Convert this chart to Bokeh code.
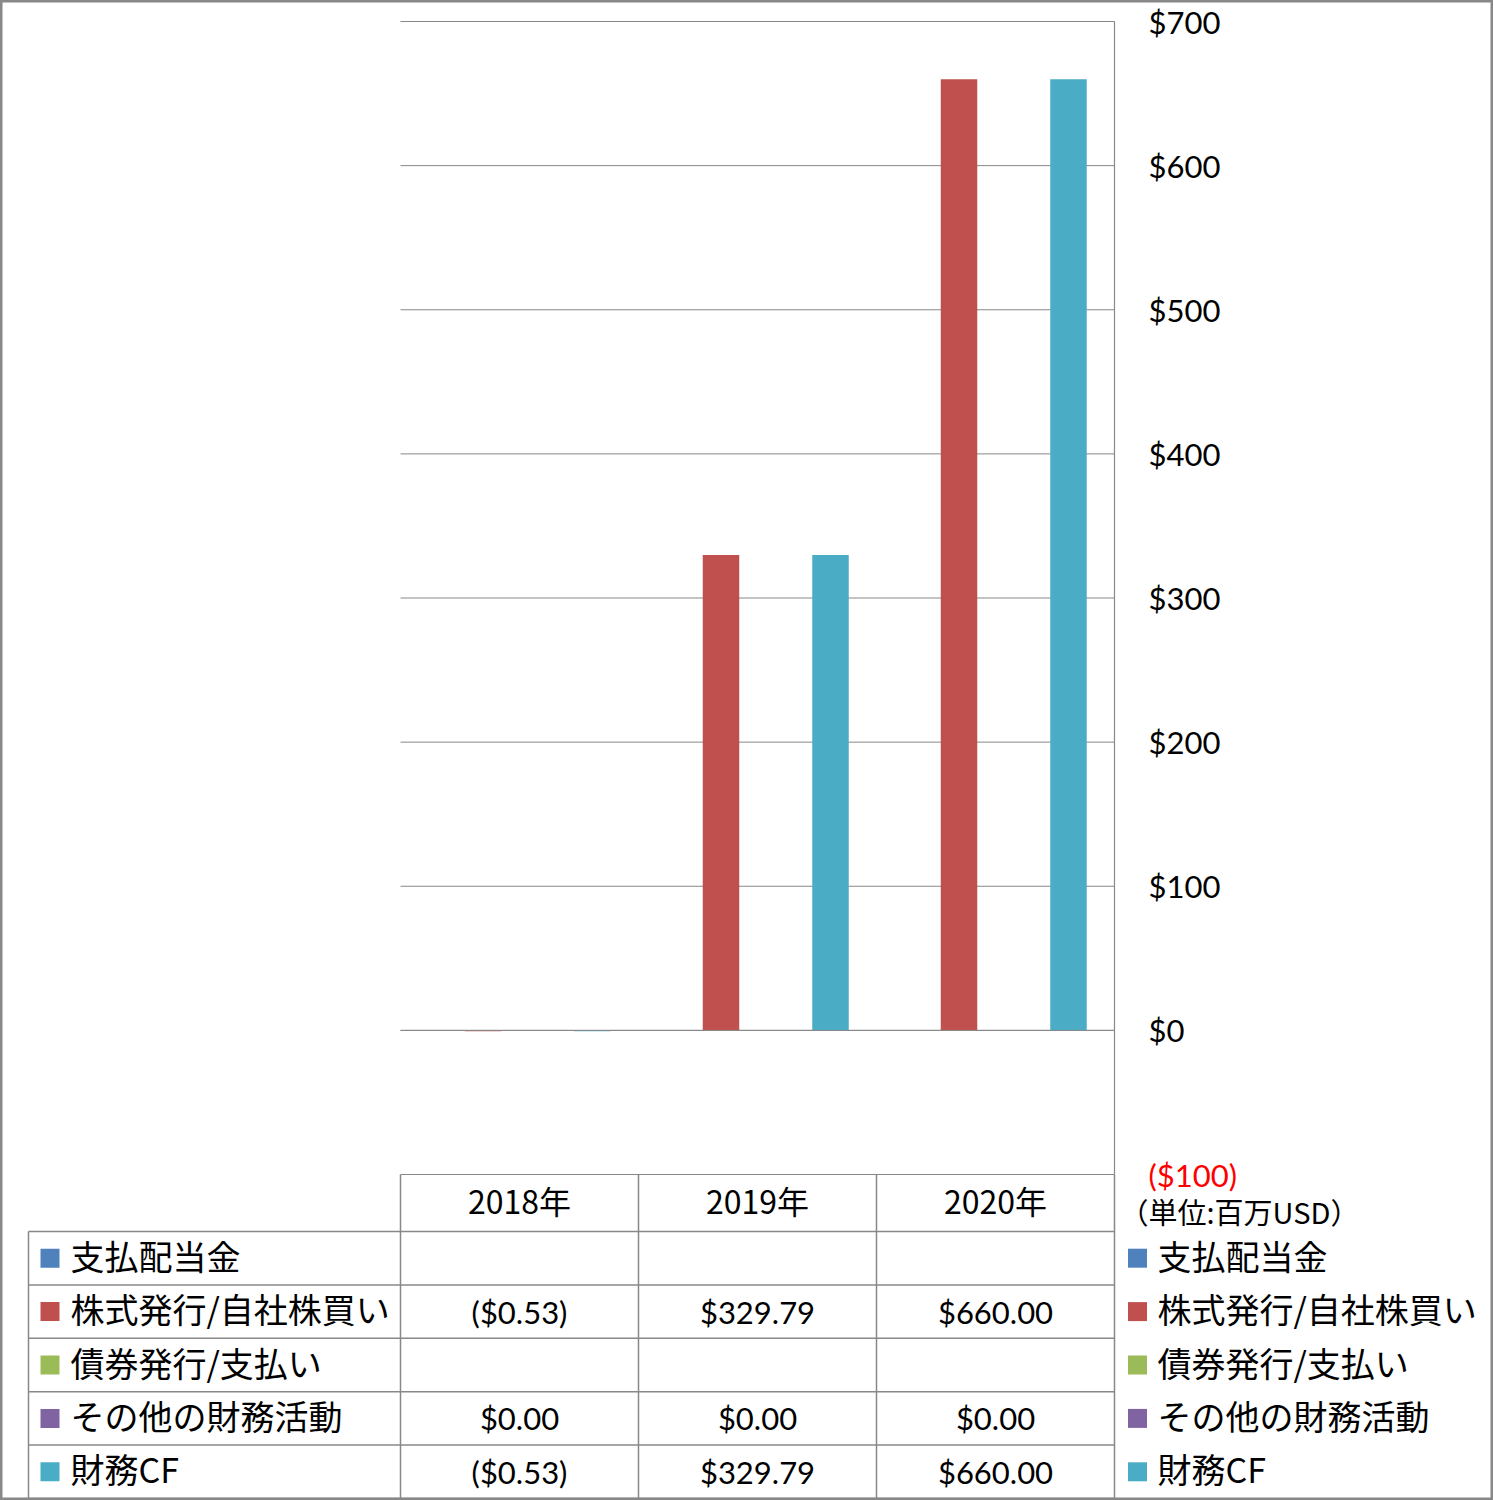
from bokeh.plotting import figure
from bokeh.models import Range1d, ColumnDataSource
from bokeh.embed import file_html
from bokeh.resources import INLINE
from bokeh.core.properties import value

# ---------------- data ----------------
years = ["2018年", "2019年", "2020年"]
series_names = ["支払配当金", "株式発行/自社株買い", "債券発行/支払い", "その他の財務活動", "財務CF"]
series_colors = ["#4F81BD", "#C0504D", "#9BBB59", "#8064A2", "#4BACC6"]
dividends_paid = [None, None, None]
stock_issuance = [-0.53, 329.79, 660.00]
debt_issuance = [None, None, None]
other_financing = [0.00, 0.00, 0.00]
financing_cf = [-0.53, 329.79, 660.00]
series_values = [dividends_paid, stock_issuance, debt_issuance, other_financing, financing_cf]
y_tick_values = [0, 100, 200, 300, 400, 500, 600, 700]
y_min, y_max = -100, 700
y_tick_labels = ["$0", "$100", "$200", "$300", "$400", "$500", "$600", "$700"]
y_min_label = "($100)"
unit_label = "（単位:百万USD）"

# ---------------- style / layout ----------------
FONT = "Noto Sans CJK JP"
NUM_FONT = "Lato"
GRAY = "#888888"
W, H = 1493, 1500
PLOT_LEFT, PLOT_TOP, PLOT_BOTTOM = 400, 21, 1174
TABLE_TOP = 1231
COL = 238.0                 # px per category column
ROW = 53.4                  # px per table row
PPV = (PLOT_BOTTOM - PLOT_TOP) / (y_max - y_min)   # px per value unit
BAR_W = 36.5 / COL
TXT_DY = -3                 # optical vertical correction for CJK text (screen px)
n_cat = len(years)
n_rows = len(series_names)


def fmt(v):
    if v is None:
        return ""
    if v < 0:
        return "(${:,.2f})".format(-v)
    return "${:,.2f}".format(v)


p = figure(width=W, height=H, output_backend="svg", toolbar_location=None,
           x_range=Range1d(-PLOT_LEFT / COL, (W - PLOT_LEFT) / COL),
           y_range=Range1d(y_min - (H - PLOT_BOTTOM) / PPV, y_max + PLOT_TOP / PPV),
           x_axis_type=None, y_axis_type=None,
           min_border_left=0, min_border_right=0, min_border_top=0, min_border_bottom=0)
p.extra_y_ranges = {"rows": Range1d(start=(H - TABLE_TOP) / ROW, end=-TABLE_TOP / ROW)}
p.outline_line_color = GRAY
p.outline_line_width = 4
p.background_fill_color = "white"
p.border_fill_color = "white"
p.xgrid.visible = False
p.ygrid.visible = False

# ---- gridlines & value axis line ----
grid_y = [y_min] + y_tick_values
p.segment(x0=[0] * len(grid_y), x1=[n_cat] * len(grid_y), y0=grid_y, y1=grid_y,
          line_color=GRAY, line_width=1)
p.segment(x0=[n_cat], x1=[n_cat], y0=[y_min], y1=[y_max], line_color=GRAY, line_width=1.2)

# ---- bars ----
for k, (vals, color) in enumerate(zip(series_values, series_colors)):
    xs, tops = [], []
    for i, v in enumerate(vals):
        if v is None:
            continue
        xs.append(i + 0.5 + (k - 2) * BAR_W)
        tops.append(v)
    if xs:
        src = ColumnDataSource(dict(x=xs, top=tops))
        p.vbar(x="x", top="top", bottom=0, width=BAR_W, source=src,
               fill_color=color, line_color=None)

# zero line drawn on top
p.segment(x0=[0], x1=[n_cat], y0=[0], y1=[0], line_color=GRAY, line_width=1)

# ---- value tick labels ----
lab_x = n_cat + 34 / COL
p.text(x=[lab_x] * len(y_tick_values), y=y_tick_values, text=y_tick_labels,
       text_font=value(NUM_FONT), text_font_size="31px", text_color="black",
       text_align="left", text_baseline="middle")
p.text(x=[lab_x], y=[y_min], text=[y_min_label],
       text_font=value(NUM_FONT), text_font_size="31px", text_color="#FF0000",
       text_align="left", text_baseline="middle")

# ---- data table ----
XL = -(PLOT_LEFT - 28) / COL
header_top = -(TABLE_TOP - PLOT_BOTTOM) / ROW
hy = list(range(n_rows + 1))
p.segment(x0=[XL] * len(hy), x1=[n_cat] * len(hy), y0=hy, y1=hy,
          line_color=GRAY, line_width=1.5, y_range_name="rows")
vx = [XL] + list(range(n_cat + 1))
vy0 = [0] + [header_top] * (n_cat + 1)
p.segment(x0=vx, x1=vx, y0=vy0, y1=[n_rows] * len(vx),
          line_color=GRAY, line_width=1.5, y_range_name="rows")

# header: years + unit
p.text(x=[i + 0.5 for i in range(n_cat)], y=[header_top / 2] * n_cat, text=years,
       text_font=value(FONT), text_font_size="32px", text_color="black",
       text_align="center", text_baseline="middle", y_range_name="rows",
       y_offset=TXT_DY)
p.text(x=[n_cat + 5 / COL], y=[-(TABLE_TOP - 1213) / ROW], text=[unit_label],
       text_font=value(FONT), text_font_size="29px", text_color="black",
       text_align="left", text_baseline="middle", y_range_name="rows",
       y_offset=TXT_DY)

row_y = [k + 0.5 for k in range(n_rows)]
# left legend column
p.scatter(x=[XL + 21.5 / COL] * n_rows, y=row_y, marker="square", size=19,
          fill_color=series_colors, line_color=None, y_range_name="rows")
p.text(x=[XL + 42 / COL] * n_rows, y=row_y, text=series_names,
       text_font=value(FONT), text_font_size="34px", text_color="black",
       text_align="left", text_baseline="middle", y_range_name="rows",
       y_offset=TXT_DY)
# right legend
p.scatter(x=[n_cat + 23 / COL] * n_rows, y=row_y, marker="square", size=19,
          fill_color=series_colors, line_color=None, y_range_name="rows")
p.text(x=[n_cat + 43 / COL] * n_rows, y=row_y, text=series_names,
       text_font=value(FONT), text_font_size="34px", text_color="black",
       text_align="left", text_baseline="middle", y_range_name="rows",
       y_offset=TXT_DY)
# values
cx, cy, ct = [], [], []
for k, vals in enumerate(series_values):
    for i, v in enumerate(vals):
        cx.append(i + 0.5)
        cy.append(k + 0.5)
        ct.append(fmt(v))
p.text(x=cx, y=cy, text=ct, text_font=value(NUM_FONT), text_font_size="31px",
       text_color="black", text_align="center", text_baseline="middle",
       y_range_name="rows")

open("out.html", "w").write(file_html(p, INLINE))
